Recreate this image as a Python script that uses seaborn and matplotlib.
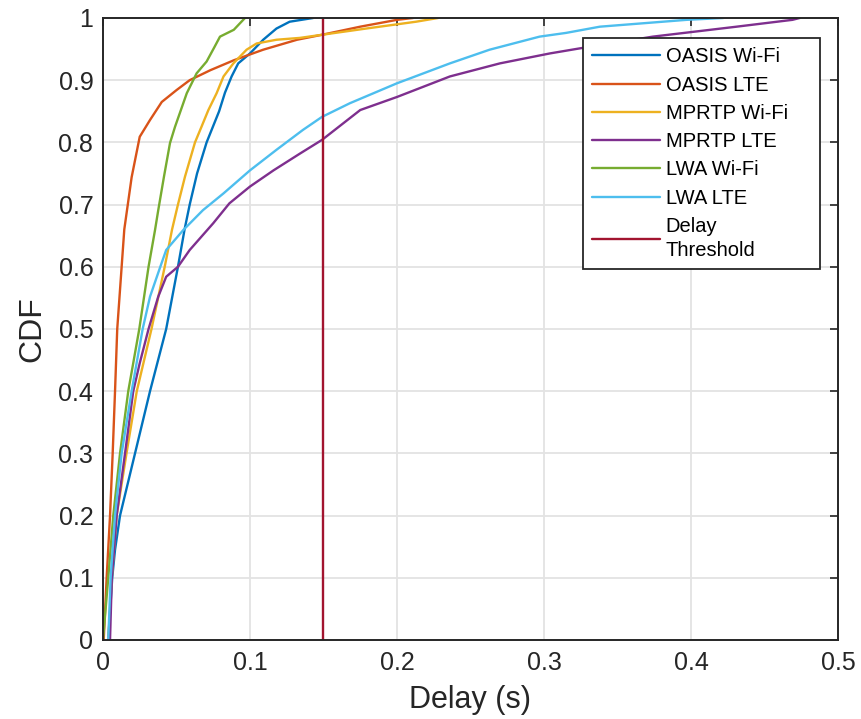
import matplotlib
matplotlib.use("Agg")
import matplotlib.pyplot as plt
import numpy as np
import pandas as pd
import seaborn as sns

# Empirical CDF points of per-packet delay (seconds) for each scheme / link
oasis_wifi_y = [0, 0.1, 0.145, 0.2, 0.3, 0.4, 0.5, 0.6, 0.66, 0.7, 0.75, 0.8, 0.85, 0.88,
                0.906, 0.927, 0.943, 0.965, 0.983, 0.994, 1.0]
oasis_wifi_x = [0.0036, 0.0063, 0.0082, 0.0116, 0.0218, 0.032, 0.043, 0.051, 0.0555, 0.059,
                0.064, 0.0705, 0.079, 0.083, 0.0875, 0.092, 0.1, 0.109, 0.118, 0.127, 0.143]

oasis_lte_y = [0, 0.1, 0.2, 0.3, 0.4, 0.5, 0.6, 0.66, 0.744, 0.809, 0.836, 0.865, 0.884, 0.9,
               0.916, 0.932, 0.949, 0.965, 0.973, 0.986, 0.997, 1.0]
oasis_lte_x = [0.0005, 0.0025, 0.0048, 0.0066, 0.0082, 0.0097, 0.0127, 0.0145, 0.0195, 0.025,
               0.032, 0.040, 0.050, 0.059, 0.073, 0.089, 0.109, 0.132, 0.149, 0.175, 0.2, 0.211]

mprtp_wifi_y = [0, 0.1, 0.2, 0.3, 0.4, 0.5, 0.6, 0.66, 0.7, 0.745, 0.8, 0.825, 0.852, 0.879,
                0.906, 0.927, 0.949, 0.959, 0.965, 0.968, 0.973, 0.983, 0.994, 1.0]
mprtp_wifi_x = [0.0036, 0.006, 0.0093, 0.016, 0.023, 0.033, 0.042, 0.047, 0.051, 0.0558,
                0.0626, 0.067, 0.0717, 0.0773, 0.082, 0.0887, 0.0977, 0.1045, 0.118, 0.134,
                0.149, 0.179, 0.213, 0.228]

mprtp_lte_y = [0, 0.1, 0.2, 0.3, 0.4, 0.445, 0.5, 0.552, 0.584, 0.6, 0.627, 0.67, 0.702, 0.729,
               0.755, 0.782, 0.804, 0.852, 0.873, 0.906, 0.927, 0.943, 0.951, 0.97, 0.986,
               0.997, 1.0]
mprtp_lte_x = [0.0048, 0.006, 0.0093, 0.015, 0.0206, 0.025, 0.031, 0.0376, 0.043, 0.051, 0.059,
               0.075, 0.086, 0.1, 0.116, 0.134, 0.149, 0.175, 0.2, 0.236, 0.27, 0.304, 0.324,
               0.374, 0.431, 0.469, 0.474]

lwa_wifi_y = [0, 0.1, 0.2, 0.3, 0.4, 0.5, 0.6, 0.659, 0.691, 0.745, 0.799, 0.825, 0.879, 0.911,
              0.93, 0.954, 0.97, 0.981, 1.0]
lwa_wifi_x = [0.0, 0.0036, 0.007, 0.0116, 0.0172, 0.0247, 0.031, 0.0354, 0.0376, 0.0415,
              0.0456, 0.049, 0.057, 0.0637, 0.0705, 0.076, 0.0796, 0.089, 0.0966]

lwa_lte_y = [0, 0.1, 0.2, 0.3, 0.4, 0.5, 0.552, 0.6, 0.627, 0.659, 0.691, 0.718, 0.755, 0.788,
             0.82, 0.841, 0.863, 0.895, 0.927, 0.949, 0.97, 0.976, 0.986, 0.997, 1.0]
lwa_lte_x = [0.0036, 0.0052, 0.0082, 0.0127, 0.0195, 0.027, 0.032, 0.039, 0.043, 0.0546, 0.068,
             0.082, 0.1, 0.118, 0.136, 0.149, 0.168, 0.2, 0.236, 0.263, 0.297, 0.315, 0.338,
             0.397, 0.422]

delay_threshold = 0.15

series_names = ["OASIS Wi-Fi", "OASIS LTE", "MPRTP Wi-Fi", "MPRTP LTE", "LWA Wi-Fi", "LWA LTE"]
series_x = [oasis_wifi_x, oasis_lte_x, mprtp_wifi_x, mprtp_lte_x, lwa_wifi_x, lwa_lte_x]
series_y = [oasis_wifi_y, oasis_lte_y, mprtp_wifi_y, mprtp_lte_y, lwa_wifi_y, lwa_lte_y]
colors = ["#0072BD", "#D95319", "#EDB120", "#7E2F8E", "#77AC30", "#4DBEEE"]
threshold_color = "#A2142F"

x_ticks = [0, 0.1, 0.2, 0.3, 0.4, 0.5]
x_tick_labels = ["0", "0.1", "0.2", "0.3", "0.4", "0.5"]
y_ticks = [0, 0.1, 0.2, 0.3, 0.4, 0.5, 0.6, 0.7, 0.8, 0.9, 1.0]
y_tick_labels = ["0", "0.1", "0.2", "0.3", "0.4", "0.5", "0.6", "0.7", "0.8", "0.9", "1"]

frames = []
for name, xs, ys in zip(series_names, series_x, series_y):
    frames.append(pd.DataFrame({"delay": xs, "cdf": ys, "series": name,
                                "order": np.arange(len(xs))}))
df = pd.concat(frames, ignore_index=True)

sns.set_style("white")
plt.rcParams["font.family"] = ["Liberation Sans", "DejaVu Sans"]
dark = "#262626"

fig = plt.figure(figsize=(8.61, 7.19), dpi=100)
ax = fig.add_axes([0.1196, 0.1099, 0.8537, 0.8651])

ax.grid(True, color="#e3e3e3", linewidth=1.3)
ax.set_axisbelow(True)

sns.lineplot(data=df, x="delay", y="cdf", hue="series", hue_order=series_names,
             palette=colors, estimator=None, sort=False, units="series",
             linewidth=1.7, ax=ax, legend=False)
ax.axvline(delay_threshold, color=threshold_color, linewidth=1.7)

ax.set_xlim(0, 0.5)
ax.set_ylim(0, 1)
ax.set_xticks(x_ticks)
ax.set_xticklabels(x_tick_labels)
ax.set_yticks(y_ticks)
ax.set_yticklabels(y_tick_labels)

for sp in ax.spines.values():
    sp.set_visible(True)
    sp.set_color(dark)
    sp.set_linewidth(1.4)

ax.tick_params(axis="both", which="both", direction="in", length=6, width=1.2,
               color=dark, labelcolor=dark, labelsize=18, top=True, right=True)
ax.tick_params(axis="x", pad=8)
ax.tick_params(axis="y", pad=7)

ax.set_xlabel("Delay (s)", fontsize=22, color=dark, labelpad=7)
ax.set_ylabel("CDF", fontsize=23, color=dark, labelpad=8)

handles = [plt.Line2D([], [], color=c, linewidth=1.7) for c in colors]
handles.append(plt.Line2D([], [], color=threshold_color, linewidth=1.7))
labels = series_names + ["Delay\nThreshold"]
leg = ax.legend(handles, labels, loc="upper left", bbox_to_anchor=(0.653, 0.5, 0.3224, 0.4674),
                mode="expand", borderaxespad=0, fontsize=14.5, handlelength=3.4,
                handletextpad=0.25, labelspacing=0.46, borderpad=0.45, fancybox=False,
                framealpha=1, edgecolor=dark)
leg.get_frame().set_linewidth(1.3)
for t in leg.get_texts():
    t.set_color("black")
leg.get_texts()[-1].set_linespacing(1.36)

fig.savefig("out.png", dpi=100)
